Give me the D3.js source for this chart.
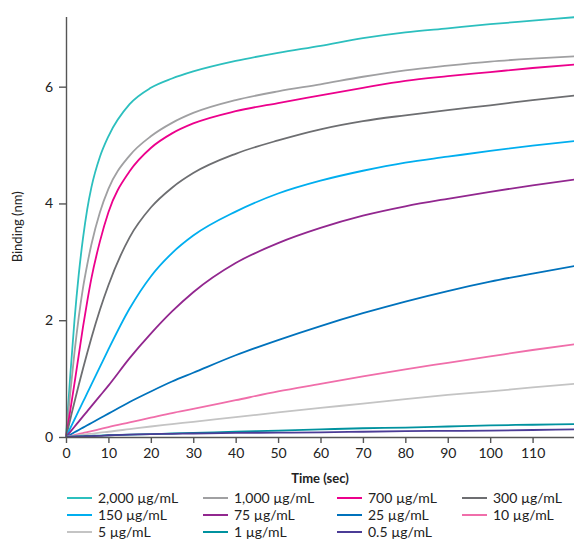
<!DOCTYPE html>
<html>
<head>
<meta charset="utf-8">
<script src="https://cdn.jsdelivr.net/npm/d3@7"></script>
<style>
  body { margin: 0; background: #fff; }
  #svg-container { width: 574px; height: 542px; }
  text { font-family: Lato, "Noto Sans", sans-serif; fill: #222; }
</style>
</head>
<body>
<div id="svg-container"></div>
<script>
// time points (sec)
const times = [0, 1, 2, 3, 4, 5, 6, 8, 10, 15, 20, 25, 30, 40, 50, 60, 70, 80, 90, 100, 110, 120];

// binding (nm) per concentration
const s2000 = [0, 1.05, 2.0, 2.78, 3.4, 3.9, 4.28, 4.8, 5.15, 5.7, 5.98, 6.14, 6.26, 6.44, 6.58, 6.7, 6.83, 6.93, 7.0, 7.07, 7.13, 7.19];
const s1000 = [0, 0.75, 1.45, 2.05, 2.55, 2.95, 3.3, 3.85, 4.25, 4.82, 5.15, 5.38, 5.55, 5.77, 5.92, 6.04, 6.17, 6.28, 6.36, 6.43, 6.48, 6.52];
const s700 = [0, 0.45, 0.92, 1.4, 1.88, 2.32, 2.72, 3.35, 3.85, 4.55, 4.95, 5.2, 5.37, 5.58, 5.72, 5.85, 5.98, 6.1, 6.18, 6.25, 6.32, 6.38];
const s300 = [0, 0.3, 0.6, 0.89, 1.17, 1.44, 1.7, 2.18, 2.6, 3.42, 3.93, 4.27, 4.52, 4.85, 5.08, 5.27, 5.41, 5.51, 5.6, 5.68, 5.77, 5.85];
const s150 = [0, 0.15, 0.3, 0.45, 0.6, 0.75, 0.9, 1.2, 1.5, 2.2, 2.75, 3.15, 3.45, 3.86, 4.17, 4.39, 4.56, 4.7, 4.8, 4.9, 4.99, 5.07];
const s75 = [0, 0.088, 0.176, 0.264, 0.352, 0.44, 0.528, 0.704, 0.88, 1.35, 1.77, 2.15, 2.48, 2.98, 3.32, 3.58, 3.79, 3.95, 4.08, 4.2, 4.31, 4.41];
const s25 = [0, 0.04, 0.08, 0.12, 0.16, 0.2, 0.24, 0.32, 0.4, 0.6, 0.78, 0.95, 1.1, 1.4, 1.66, 1.9, 2.12, 2.32, 2.5, 2.66, 2.8, 2.93];
const s10 = [0, 0.017, 0.034, 0.051, 0.068, 0.085, 0.1, 0.135, 0.17, 0.25, 0.33, 0.41, 0.48, 0.63, 0.78, 0.91, 1.04, 1.16, 1.27, 1.38, 1.49, 1.59];
const s5 = [0, 0.01, 0.02, 0.03, 0.04, 0.05, 0.055, 0.075, 0.09, 0.135, 0.18, 0.22, 0.26, 0.34, 0.42, 0.5, 0.57, 0.65, 0.72, 0.78, 0.85, 0.91];
const s1 = [0, 0.005, 0.01, 0.012, 0.015, 0.018, 0.02, 0.025, 0.03, 0.04, 0.05, 0.06, 0.07, 0.09, 0.11, 0.13, 0.15, 0.16, 0.18, 0.2, 0.21, 0.22];
const s05 = [0, 0.004, 0.008, 0.01, 0.012, 0.014, 0.016, 0.02, 0.03, 0.04, 0.05, 0.055, 0.06, 0.07, 0.075, 0.08, 0.09, 0.1, 0.105, 0.11, 0.12, 0.13];

const labels = ["2,000 µg/mL", "1,000 µg/mL", "700 µg/mL", "300 µg/mL", "150 µg/mL", "75 µg/mL",
  "25 µg/mL", "10 µg/mL", "5 µg/mL", "1 µg/mL", "0.5 µg/mL"];
const colors = ["#2cbfbe", "#a0a0a2", "#ec008c", "#6d6e71", "#00aeef", "#92278f",
  "#0072bc", "#f06eaa", "#c4c4c4", "#00929f", "#4b3c96"];
const seriesValues = [s2000, s1000, s700, s300, s150, s75, s25, s10, s5, s1, s05];

const xTicks = [0, 10, 20, 30, 40, 50, 60, 70, 80, 90, 100, 110];
const yTicks = [0, 2, 4, 6];

////////////////////////////  Init  ///////////////////////////////
const width = 574;
const height = 542;
const margin = { top: 16.6, right: -1, bottom: 105, left: 66 };

const svg = d3.select("#svg-container").append("svg")
  .attr("width", width)
  .attr("height", height);

const xScale = d3.scaleLinear().domain([0, 120]).range([margin.left, width - margin.right]);
const yScale = d3.scaleLinear().domain([0, 7.2]).range([height - margin.bottom, margin.top]);

const xAxis = d3.axisBottom(xScale).tickValues(xTicks).tickSize(6).tickPadding(5).tickSizeOuter(0);
const yAxis = d3.axisLeft(yScale).tickValues(yTicks).tickSize(7).tickPadding(6).tickSizeOuter(0);

// lines
const line = d3.line()
  .x((d) => xScale(d.t))
  .y((d) => yScale(d.v))
  .curve(d3.curveMonotoneX);

const series = seriesValues.map((vals, i) => ({
  label: labels[i],
  color: colors[i],
  points: times.map((t, j) => ({ t: t, v: vals[j] })),
}));

svg.append("g")
  .selectAll("path")
  .data(series)
  .enter()
  .append("path")
  .attr("fill", "none")
  .attr("stroke", (d) => d.color)
  .attr("stroke-width", 1.8)
  .attr("d", (d) => line(d.points));

// axes
const styleAxis = (g) => {
  g.select(".domain").attr("stroke", "#555").attr("stroke-width", 1.4);
  g.selectAll(".tick line").attr("stroke", "#555").attr("stroke-width", 1.4);
  g.selectAll(".tick text").attr("fill", "#222").style("font-size", "14px")
    .style("font-family", "Lato, 'Noto Sans', sans-serif");
};

svg.append("g")
  .attr("class", "x-axis")
  .attr("transform", `translate(0, ${height - margin.bottom})`)
  .call(xAxis)
  .call(styleAxis);

svg.append("g")
  .attr("class", "y-axis")
  .attr("transform", `translate(${margin.left}, 0)`)
  .call(yAxis)
  .call(styleAxis);

// axis titles
svg.append("text")
  .attr("x", 320)
  .attr("y", 483)
  .attr("text-anchor", "middle")
  .style("font-size", "13px")
  .style("font-weight", "700")
  .text("Time (sec)");

svg.append("text")
  .attr("transform", `translate(22, ${yScale(3.6)}) rotate(-90)`)
  .attr("text-anchor", "middle")
  .style("font-size", "13px")
  .text("Binding (nm)");

// legend
const legendCols = [67, 203, 337, 462];
const legendRows = [498, 515, 532];

const legend = svg.append("g")
  .selectAll("g")
  .data(series)
  .enter()
  .append("g")
  .attr("transform", (d, i) => `translate(${legendCols[i % 4]}, ${legendRows[Math.floor(i / 4)]})`);

legend.append("line")
  .attr("x1", 0)
  .attr("x2", 25)
  .attr("stroke", (d) => d.color)
  .attr("stroke-width", 2);

legend.append("text")
  .attr("x", 31)
  .attr("dy", "0.35em")
  .style("font-size", "14px")
  .text((d) => d.label);
</script>
</body>
</html>
